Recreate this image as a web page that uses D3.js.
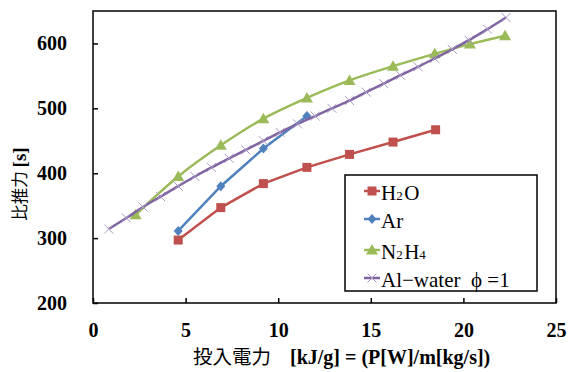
<!DOCTYPE html>
<html>
<head>
<meta charset="utf-8">
<script src="https://cdn.jsdelivr.net/npm/d3@7"></script>
<style>
  body { margin: 0; background: #fff; }
  svg { display: block; }
  .serif { font-family: "Liberation Serif", "Times New Roman", Times, serif; }
  .cjk { font-family: "Noto Sans CJK JP", sans-serif; }
</style>
</head>
<body>
<script>
// data
var h2oX = [4.6, 6.9, 9.2, 11.55, 13.85, 16.2, 18.5];
var h2oY = [297, 347, 384, 409, 429, 448, 467];

var arX = [4.6, 6.9, 9.2, 11.55];
var arY = [311, 380, 438, 488];

var n2h4X = [2.3, 4.6, 6.9, 9.2, 11.55, 13.85, 16.2, 18.45, 20.35, 22.25];
var n2h4Y = [336, 395, 443, 484, 516, 543, 565, 584, 599, 612];

var alX = [0.85, 1.8, 2.7, 3.65, 4.6, 5.5, 6.4, 7.35, 8.25, 9.2, 10.1, 11.05,
           12.0, 12.9, 13.85, 14.75, 15.7, 16.6, 17.55, 18.45, 19.4, 20.3, 21.3, 22.3];
var alY = [314, 331, 348, 364, 380, 395, 409, 423, 436, 450, 463, 476,
           488, 500, 512, 525, 538, 551, 564, 577, 591, 605, 622, 640];

var xTicks = [0, 5, 10, 15, 20, 25];
var yTicks = [200, 300, 400, 500, 600];

var W = 570, H = 372;
var margin = { top: 11, right: 14, bottom: 69, left: 93 };

var x = d3.scaleLinear().domain([0, 25]).range([margin.left, W - margin.right]);
var y = d3.scaleLinear().domain([200, 650]).range([H - margin.bottom, margin.top]);

var svg = d3.select("body").append("svg")
    .attr("width", W)
    .attr("height", H);

// axes, ticks pointing inward
var xAxis = svg.append("g")
    .attr("transform", "translate(0," + (H - margin.bottom) + ")")
    .call(d3.axisBottom(x).tickValues(xTicks).tickSizeInner(-5).tickSizeOuter(0).tickPadding(20));
var yAxis = svg.append("g")
    .attr("transform", "translate(" + margin.left + ",0)")
    .call(d3.axisLeft(y).tickValues(yTicks).tickSizeInner(-5).tickSizeOuter(0).tickPadding(26));

[xAxis, yAxis].forEach(function (g) {
    g.attr("font-family", null).attr("font-size", null);
    g.select(".domain").remove();
    g.selectAll("line").attr("stroke", "#000").attr("stroke-width", 1.5);
    g.selectAll("text")
        .attr("class", "serif")
        .style("font-weight", "bold")
        .style("font-size", "20px")
        .attr("fill", "#000");
});

// plot frame
svg.append("rect")
    .attr("x", x(0)).attr("y", y(650))
    .attr("width", x(25) - x(0)).attr("height", y(200) - y(650))
    .attr("fill", "none").attr("stroke", "#000").attr("stroke-width", 1.5);

function pts(xs, ys) { return xs.map(function (v, i) { return [v, ys[i]]; }); }

var series = [
    { name: "H2O", data: pts(h2oX, h2oY), color: "#C0504D", shape: "square", smooth: false },
    { name: "Ar", data: pts(arX, arY), color: "#4F81BD", shape: "diamond", smooth: false },
    { name: "N2H4", data: pts(n2h4X, n2h4Y), color: "#9BBB59", shape: "triangle", smooth: true },
    { name: "Al", data: pts(alX, alY), color: "#8064A2", shape: "cross", smooth: true }
];

function drawMarker(g, shape, color, cx, cy) {
    if (shape === "square") {
        g.append("rect").attr("x", cx - 4.5).attr("y", cy - 4.5).attr("width", 9).attr("height", 9)
            .attr("fill", color);
    } else if (shape === "diamond") {
        g.append("path").attr("d", "M0,-5L4.5,0L0,5L-4.5,0Z")
            .attr("transform", "translate(" + cx + "," + cy + ")").attr("fill", color);
    } else if (shape === "triangle") {
        g.append("path").attr("d", "M0,-6L6,4.5L-6,4.5Z")
            .attr("transform", "translate(" + cx + "," + cy + ")").attr("fill", color);
    } else {
        g.append("path").attr("d", "M-4.5,-4.5L4.5,4.5M-4.5,4.5L4.5,-4.5")
            .attr("transform", "translate(" + cx + "," + cy + ")")
            .attr("stroke", "#A99BC4").attr("stroke-width", 1).attr("fill", "none");
    }
}

series.forEach(function (s) {
    var line = d3.line()
        .x(function (d) { return x(d[0]); })
        .y(function (d) { return y(d[1]); })
        .curve(s.smooth ? d3.curveCatmullRom.alpha(0.5) : d3.curveLinear);
    var g = svg.append("g");
    g.append("path")
        .attr("d", line(s.data))
        .attr("fill", "none")
        .attr("stroke", s.color)
        .attr("stroke-width", 2.5);
    s.data.forEach(function (d) { drawMarker(g, s.shape, s.color, x(d[0]), y(d[1])); });
});

// legend
var lg = svg.append("g");
lg.append("rect")
    .attr("x", 345).attr("y", 175).attr("width", 192).attr("height", 116)
    .attr("fill", "#fff").attr("stroke", "#000").attr("stroke-width", 1.5);

var legendRows = [
    { s: series[0], cy: 191, parts: [["H", 0], ["2", 1], ["O", 0]] },
    { s: series[1], cy: 219, parts: [["Ar", 0]] },
    { s: series[2], cy: 250, parts: [["N", 0], ["2", 1], ["H", 0], ["4", 1]] },
    { s: series[3], cy: 278, parts: [["Al\u2212water  \u03d5 =1", 0]] }
];

legendRows.forEach(function (r) {
    lg.append("line")
        .attr("x1", 364).attr("x2", 380).attr("y1", r.cy).attr("y2", r.cy)
        .attr("stroke", r.s.color).attr("stroke-width", 2.5);
    drawMarker(lg, r.s.shape, r.s.color, 372, r.cy);
    var t = lg.append("text")
        .attr("class", "serif")
        .attr("x", 381).attr("y", r.cy + 9)
        .attr("fill", "#000")
        .attr("xml:space", "preserve");
    r.parts.forEach(function (p) {
        t.append("tspan")
            .style("font-size", p[1] ? "13px" : "21px")
            .style("letter-spacing", p[1] ? "1.5px" : null)
            .text(p[0]);
    });
});

// axis titles
svg.append("text")
    .attr("class", "cjk")
    .attr("x", 193).attr("y", 364)
    .attr("fill", "#000")
    .style("font-size", "19.5px")
    .text("投入電力");
svg.append("text")
    .attr("class", "serif")
    .attr("x", 290).attr("y", 364)
    .attr("fill", "#000")
    .style("font-weight", "bold")
    .style("font-size", "20px")
    .text("[kJ/g] = (P[W]/m[kg/s])");

var yt = svg.append("text")
    .attr("transform", "translate(26,184) rotate(-90)")
    .attr("text-anchor", "middle")
    .attr("fill", "#000")
    .attr("xml:space", "preserve");
yt.append("tspan").attr("class", "cjk").style("font-size", "16.5px").text("比推力 ");
yt.append("tspan").attr("class", "serif").style("font-weight", "bold").style("font-size", "19px").text("[s]");
</script>
</body>
</html>
